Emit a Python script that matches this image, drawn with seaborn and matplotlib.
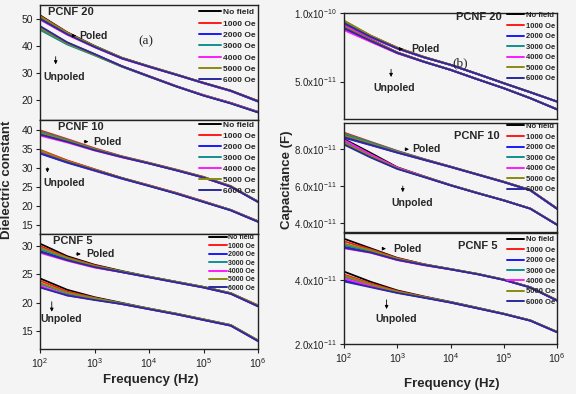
import numpy as np
import pandas as pd
import seaborn as sns
import matplotlib.pyplot as plt
from matplotlib.ticker import FixedLocator, FuncFormatter, NullLocator

sns.set_style('ticks')
plt.rcParams['font.family'] = ['Liberation Sans', 'DejaVu Sans']
plt.rcParams['mathtext.default'] = 'regular'

# frequency points (Hz)
freq = [100, 316, 1000, 3162, 10000, 31623, 100000, 316228, 1000000]
fields = ['No field', '1000 Oe', '2000 Oe', '3000 Oe', '4000 Oe', '5000 Oe', '6000 Oe']
colors = ['#000000', '#ff1a1a', '#1a1aff', '#109090', '#ff1aff', '#8a8a10', '#2a2a9a']

# ---- dielectric constant, PCNF 20 ----
eps20_poled = [
    [51.2, 44.9, 39.9, 35.5, 32.3, 29.3, 26.2, 23.3, 19.5],
    [51.0, 44.8, 39.8, 35.5, 32.4, 29.4, 26.3, 23.4, 19.6],
    [50.4, 44.4, 39.6, 35.3, 32.2, 29.2, 26.1, 23.2, 19.3],
    [50.6, 44.5, 39.7, 35.4, 32.3, 29.3, 26.2, 23.3, 19.4],
    [49.6, 44.0, 39.4, 35.2, 32.1, 29.2, 26.1, 23.2, 19.4],
    [50.8, 44.7, 39.8, 35.5, 32.3, 29.3, 26.2, 23.3, 19.5],
    [49.9, 44.2, 39.5, 35.3, 32.2, 29.2, 26.2, 23.3, 19.4],
]
eps20_unpoled = [
    [46.6, 40.9, 36.7, 32.4, 28.7, 25.0, 21.7, 18.8, 15.5],
    [47.0, 41.1, 36.8, 32.4, 28.7, 25.0, 21.6, 18.8, 15.4],
    [46.3, 40.7, 36.6, 32.3, 28.6, 24.9, 21.6, 18.7, 15.4],
    [45.8, 40.4, 36.4, 32.2, 28.5, 24.9, 21.6, 18.7, 15.3],
    [46.9, 41.0, 36.8, 32.4, 28.7, 25.0, 21.7, 18.8, 15.5],
    [46.5, 40.8, 36.6, 32.3, 28.6, 24.9, 21.6, 18.7, 15.4],
    [47.2, 41.2, 36.9, 32.4, 28.6, 24.9, 21.5, 18.6, 15.3],
]
# ---- dielectric constant, PCNF 10 ----
eps10_poled = [
    [39.4, 37.3, 35.0, 33.0, 31.3, 29.5, 27.6, 25.2, 21.2],
    [39.9, 37.6, 35.2, 33.1, 31.4, 29.6, 27.7, 25.3, 21.1],
    [39.0, 37.0, 34.8, 32.9, 31.2, 29.4, 27.5, 25.1, 21.1],
    [39.6, 37.4, 35.0, 33.0, 31.3, 29.5, 27.6, 25.2, 21.2],
    [38.5, 36.7, 34.6, 32.8, 31.2, 29.4, 27.5, 25.1, 21.1],
    [39.2, 37.2, 34.9, 33.0, 31.3, 29.5, 27.6, 25.2, 21.2],
    [38.8, 36.9, 34.7, 32.9, 31.2, 29.4, 27.5, 25.1, 21.1],
]
eps10_unpoled = [
    [34.5, 31.9, 29.6, 27.4, 25.4, 23.4, 21.2, 19.0, 16.0],
    [34.8, 32.0, 29.7, 27.4, 25.5, 23.5, 21.3, 19.0, 16.1],
    [33.8, 31.4, 29.3, 27.2, 25.3, 23.3, 21.1, 18.9, 15.9],
    [34.2, 31.7, 29.5, 27.3, 25.4, 23.4, 21.2, 19.0, 16.0],
    [34.0, 31.6, 29.4, 27.3, 25.4, 23.4, 21.2, 19.0, 16.0],
    [34.6, 31.8, 29.6, 27.4, 25.4, 23.4, 21.2, 19.0, 16.0],
    [33.9, 31.5, 29.4, 27.3, 25.3, 23.3, 21.1, 18.9, 15.9],
]
# ---- dielectric constant, PCNF 5 ----
eps5_poled = [
    [30.4, 28.2, 26.7, 25.6, 24.6, 23.7, 22.8, 21.7, 19.5],
    [30.0, 28.0, 26.6, 25.5, 24.6, 23.7, 22.8, 21.7, 19.6],
    [29.1, 27.6, 26.3, 25.4, 24.5, 23.6, 22.7, 21.6, 19.4],
    [29.4, 27.8, 26.4, 25.5, 24.6, 23.7, 22.8, 21.7, 19.5],
    [28.8, 27.4, 26.2, 25.4, 24.5, 23.6, 22.7, 21.6, 19.4],
    [29.7, 27.9, 26.5, 25.5, 24.6, 23.7, 22.8, 21.7, 19.5],
    [29.0, 27.5, 26.3, 25.4, 24.5, 23.6, 22.7, 21.6, 19.4],
]
eps5_unpoled = [
    [24.3, 22.3, 21.0, 20.0, 19.0, 18.1, 17.1, 16.1, 13.4],
    [23.9, 22.0, 20.9, 19.9, 19.0, 18.1, 17.1, 16.1, 13.4],
    [22.8, 21.4, 20.6, 19.8, 18.9, 18.0, 17.0, 16.0, 13.3],
    [23.3, 21.7, 20.8, 19.9, 19.0, 18.1, 17.1, 16.1, 13.4],
    [23.0, 21.3, 20.6, 19.8, 18.9, 18.0, 17.0, 16.0, 13.3],
    [23.5, 21.8, 20.8, 19.9, 19.0, 18.1, 17.1, 16.1, 13.4],
    [22.7, 21.3, 20.5, 19.8, 18.9, 18.0, 17.0, 16.0, 13.3],
]

# ---- capacitance (x1e-11 F), PCNF 20 ----
cap20_poled = [
    [9.38, 8.33, 7.46, 6.79, 6.22, 5.56, 4.88, 4.22, 3.54],
    [9.42, 8.35, 7.47, 6.80, 6.23, 5.57, 4.89, 4.23, 3.55],
    [9.20, 8.24, 7.41, 6.76, 6.21, 5.55, 4.87, 4.21, 3.53],
    [9.30, 8.29, 7.44, 6.78, 6.22, 5.56, 4.88, 4.22, 3.54],
    [9.12, 8.20, 7.40, 6.76, 6.21, 5.55, 4.88, 4.22, 3.54],
    [9.45, 8.36, 7.48, 6.80, 6.23, 5.57, 4.89, 4.23, 3.55],
    [9.25, 8.26, 7.42, 6.77, 6.22, 5.56, 4.88, 4.22, 3.54],
]
cap20_unpoled = [
    [9.08, 8.06, 7.13, 6.46, 5.86, 5.18, 4.52, 3.79, 2.98],
    [9.05, 8.04, 7.12, 6.46, 5.86, 5.18, 4.52, 3.79, 2.98],
    [8.85, 7.95, 7.08, 6.44, 5.85, 5.17, 4.51, 3.78, 2.97],
    [8.95, 8.00, 7.10, 6.45, 5.86, 5.18, 4.52, 3.79, 2.98],
    [8.75, 7.90, 7.06, 6.43, 5.85, 5.17, 4.51, 3.78, 2.97],
    [9.00, 8.02, 7.11, 6.45, 5.86, 5.18, 4.52, 3.79, 2.98],
    [8.90, 7.97, 7.09, 6.44, 5.85, 5.17, 4.51, 3.78, 2.97],
]
# ---- capacitance (x1e-11 F), PCNF 10 ----
cap10_poled = [
    [8.80, 8.33, 7.87, 7.45, 7.05, 6.64, 6.23, 5.78, 4.78],
    [8.90, 8.40, 7.91, 7.47, 7.06, 6.65, 6.24, 5.79, 4.80],
    [8.62, 8.22, 7.81, 7.42, 7.03, 6.62, 6.21, 5.76, 4.76],
    [8.85, 8.37, 7.89, 7.46, 7.05, 6.64, 6.23, 5.78, 4.78],
    [8.68, 8.25, 7.83, 7.43, 7.04, 6.63, 6.22, 5.77, 4.77],
    [8.75, 8.30, 7.85, 7.44, 7.05, 6.64, 6.23, 5.78, 4.78],
    [8.65, 8.24, 7.82, 7.43, 7.04, 6.63, 6.22, 5.77, 4.77],
]
cap10_unpoled = [
    [8.55, 7.80, 7.02, 6.53, 6.06, 5.64, 5.23, 4.78, 3.91],
    [8.45, 7.70, 6.99, 6.52, 6.05, 5.63, 5.23, 4.78, 3.91],
    [8.30, 7.58, 6.95, 6.50, 6.04, 5.62, 5.22, 4.77, 3.90],
    [8.40, 7.65, 6.97, 6.51, 6.05, 5.63, 5.23, 4.78, 3.91],
    [8.50, 7.72, 7.00, 6.52, 6.05, 5.63, 5.23, 4.78, 3.91],
    [8.35, 7.62, 6.96, 6.51, 6.05, 5.63, 5.23, 4.78, 3.91],
    [8.25, 7.55, 6.93, 6.49, 6.04, 5.62, 5.22, 4.77, 3.90],
]
# ---- capacitance (x1e-11 F), PCNF 5 ----
cap5_poled = [
    [5.30, 5.00, 4.70, 4.50, 4.35, 4.20, 4.02, 3.78, 3.37],
    [5.22, 4.97, 4.69, 4.50, 4.35, 4.20, 4.02, 3.78, 3.38],
    [5.05, 4.88, 4.64, 4.48, 4.34, 4.19, 4.01, 3.77, 3.36],
    [5.10, 4.91, 4.66, 4.49, 4.35, 4.20, 4.02, 3.78, 3.37],
    [5.00, 4.86, 4.63, 4.47, 4.34, 4.19, 4.01, 3.77, 3.36],
    [5.15, 4.94, 4.67, 4.49, 4.35, 4.20, 4.02, 3.78, 3.37],
    [5.02, 4.87, 4.64, 4.48, 4.34, 4.19, 4.01, 3.77, 3.36],
]
cap5_unpoled = [
    [4.27, 3.95, 3.68, 3.49, 3.32, 3.14, 2.95, 2.74, 2.38],
    [4.18, 3.90, 3.66, 3.48, 3.31, 3.13, 2.95, 2.74, 2.38],
    [4.00, 3.80, 3.61, 3.46, 3.30, 3.12, 2.94, 2.73, 2.37],
    [4.10, 3.85, 3.63, 3.47, 3.31, 3.13, 2.95, 2.74, 2.38],
    [4.05, 3.82, 3.62, 3.46, 3.30, 3.12, 2.94, 2.73, 2.37],
    [4.14, 3.87, 3.64, 3.47, 3.31, 3.13, 2.95, 2.74, 2.38],
    [3.96, 3.78, 3.60, 3.45, 3.30, 3.12, 2.94, 2.73, 2.37],
]


def to_long(poled, unpoled, scale=1.0):
    rows = []
    for state, block in (('Unpoled', unpoled), ('Poled', poled)):
        for field, vals in zip(fields, block):
            for f, v in zip(freq, vals):
                rows.append((state, field, f, v * scale))
    return pd.DataFrame(rows, columns=['state', 'field', 'freq', 'value'])


def sci(v, pos):
    m, e = f"{v:.1e}".split('e')
    return f"{m}x10$^{{{int(e)}}}$"


bg = '#f4f4f4'
fig = plt.figure(figsize=(5.76, 3.94), dpi=100, facecolor=bg)
W, H = 576, 394


def px_axes(x0, y0, x1, y1):
    return fig.add_axes([x0 / W, 1 - y1 / H, (x1 - x0) / W, (y1 - y0) / H])


panels = [
    dict(rect=(40, 5, 258, 120), p=eps20_poled, u=eps20_unpoled, s=1.0, ylim=(12.5, 55),
         yt=[20, 30, 40, 50], name='PCNF 20', name_xy=(0.037, 0.937),
         pol_xy=(0.180, 0.733), pol_ar=(0.145, 0.178), unp_xy=(0.015, 0.377),
         unp_ar=(0.072, 0.575, 0.46), lfs=6.0, lsp=0.42, hl=2.6, anchor=(1.005, 1.0),
         tag='(a)', tag_xy=(0.485, 0.687)),
    dict(rect=(40, 120, 258, 234), p=eps10_poled, u=eps10_unpoled, s=1.0, ylim=(12.7, 42.6),
         yt=[15, 20, 25, 30, 35, 40], name='PCNF 10', name_xy=(0.084, 0.936),
         pol_xy=(0.245, 0.81), pol_ar=(0.19, 0.235), unp_xy=(0.015, 0.445),
         unp_ar=(0.034, 0.605, 0.515), lfs=6.0, lsp=0.38, hl=2.6, anchor=(1.005, 1.02)),
    dict(rect=(40, 234, 258, 349), p=eps5_poled, u=eps5_unpoled, s=1.0, ylim=(11.9, 32.1),
         yt=[15, 20, 25, 30], name='PCNF 5', name_xy=(0.061, 0.936),
         pol_xy=(0.214, 0.826), pol_ar=(0.153, 0.200), unp_xy=(0.0, 0.26),
         unp_ar=(0.054, 0.435, 0.30), lfs=5.0, lsp=0.2, hl=2.6, anchor=(1.0, 1.02)),
    dict(rect=(344, 13, 557, 119), p=cap20_poled, u=cap20_unpoled, s=1e-11, ylim=(2.27e-11, 1.0e-10),
         yt=[5e-11, 1e-10], name='PCNF 20', name_xy=(0.525, 0.962),
         pol_xy=(0.318, 0.66), pol_ar=(0.245, 0.29), unp_xy=(0.138, 0.29),
         unp_ar=(0.221, 0.495, 0.37), lfs=5.5, lsp=0.42, hl=2.2, anchor=(1.005, 1.04),
         tag='(b)', tag_xy=(0.545, 0.527)),
    dict(rect=(344, 123, 557, 232), p=cap10_poled, u=cap10_unpoled, s=1e-11, ylim=(3.51e-11, 9.42e-11),
         yt=[4e-11, 6e-11, 8e-11], name='PCNF 10', name_xy=(0.515, 0.884),
         pol_xy=(0.322, 0.759), pol_ar=(0.277, 0.318), unp_xy=(0.224, 0.269),
         unp_ar=(0.276, 0.447, 0.34), lfs=5.5, lsp=0.42, hl=2.2, anchor=(1.005, 1.03)),
    dict(rect=(344, 233, 557, 344), p=cap5_poled, u=cap5_unpoled, s=1e-11, ylim=(2.0e-11, 5.48e-11),
         yt=[2e-11, 4e-11], name='PCNF 5', name_xy=(0.535, 0.883),
         pol_xy=(0.232, 0.859), pol_ar=(0.168, 0.21), unp_xy=(0.146, 0.228),
         unp_ar=(0.2, 0.423, 0.29), lfs=5.5, lsp=0.4, hl=2.2, anchor=(1.005, 1.0)),
]

for i, pn in enumerate(panels):
    ax = px_axes(*pn['rect'])
    ax.set_facecolor(bg)
    df = to_long(pn['p'], pn['u'], pn['s'])
    sns.lineplot(data=df, x='freq', y='value', hue='field', units='state', estimator=None,
                 hue_order=fields, palette=colors, lw=1.3, sort=False, ax=ax)
    ax.set_xscale('log')
    ax.set_xlim(100, 1e6)
    ax.set_ylim(*pn['ylim'])
    ax.yaxis.set_major_locator(FixedLocator(pn['yt']))
    ax.yaxis.set_minor_locator(NullLocator())
    if pn['s'] != 1.0:
        ax.yaxis.set_major_formatter(FuncFormatter(sci))
        ax.tick_params(axis='y', labelsize=7)
    ax.set_xlabel('')
    ax.set_ylabel('')
    ax.tick_params(axis='both', which='major', length=3, width=0.8,
                   direction='out', pad=2, colors='#222222')
    if pn['s'] == 1.0:
        ax.tick_params(axis='y', labelsize=7.5)
    ax.tick_params(axis='x', labelsize=7.5)
    ax.xaxis.set_minor_locator(NullLocator())
    if i in (2, 5):
        ax.set_xticks([1e2, 1e3, 1e4, 1e5, 1e6])
    else:
        ax.set_xticks([])
    for sp in ax.spines.values():
        sp.set_visible(True)
        sp.set_linewidth(1.0)
        sp.set_color('#222222')

    sns.move_legend(ax, 'upper right', bbox_to_anchor=pn['anchor'], frameon=False, title=None,
                    prop={'weight': 'bold', 'size': pn['lfs']}, handlelength=pn['hl'],
                    handletextpad=0.25, labelspacing=pn['lsp'], borderaxespad=0.0)
    for ln in ax.get_legend().get_lines():
        ln.set_linewidth(1.4)

    ax.text(*pn['name_xy'], pn['name'], transform=ax.transAxes, ha='left', va='center',
            fontsize=8, fontweight='bold')
    ax.text(*pn['pol_xy'], 'Poled', transform=ax.transAxes, ha='left', va='center',
            fontsize=7.5, fontweight='bold')
    ax.annotate('', xy=(pn['pol_ar'][1], pn['pol_xy'][1]), xycoords='axes fraction',
                xytext=(pn['pol_ar'][0], pn['pol_xy'][1]), textcoords='axes fraction',
                arrowprops=dict(arrowstyle='-|>', lw=0.6, color='k', mutation_scale=5))
    ax.text(*pn['unp_xy'], 'Unpoled', transform=ax.transAxes, ha='left', va='center',
            fontsize=7.5, fontweight='bold')
    ux, uy0, uy1 = pn['unp_ar']
    ax.annotate('', xy=(ux, uy1), xycoords='axes fraction',
                xytext=(ux, uy0), textcoords='axes fraction',
                arrowprops=dict(arrowstyle='-|>', lw=0.6, color='k', mutation_scale=5))
    if 'tag' in pn:
        ax.text(*pn['tag_xy'], pn['tag'], transform=ax.transAxes, ha='center', va='center',
                fontsize=9.5, family='Liberation Serif')

fig.text(7 / W, 1 - 180 / H, 'Dielectric constant', rotation=90, ha='center', va='center',
         fontsize=9.5, fontweight='bold')
fig.text(287 / W, 1 - 180 / H, 'Capacitance (F)', rotation=90, ha='center', va='center',
         fontsize=9.5, fontweight='bold')
fig.text(151 / W, 1 - 380 / H, 'Frequency (Hz)', ha='center', va='center',
         fontsize=9.5, fontweight='bold')
fig.text(452 / W, 1 - 384 / H, 'Frequency (Hz)', ha='center', va='center',
         fontsize=9.5, fontweight='bold')

fig.savefig('out.png', dpi=100, facecolor=bg)
